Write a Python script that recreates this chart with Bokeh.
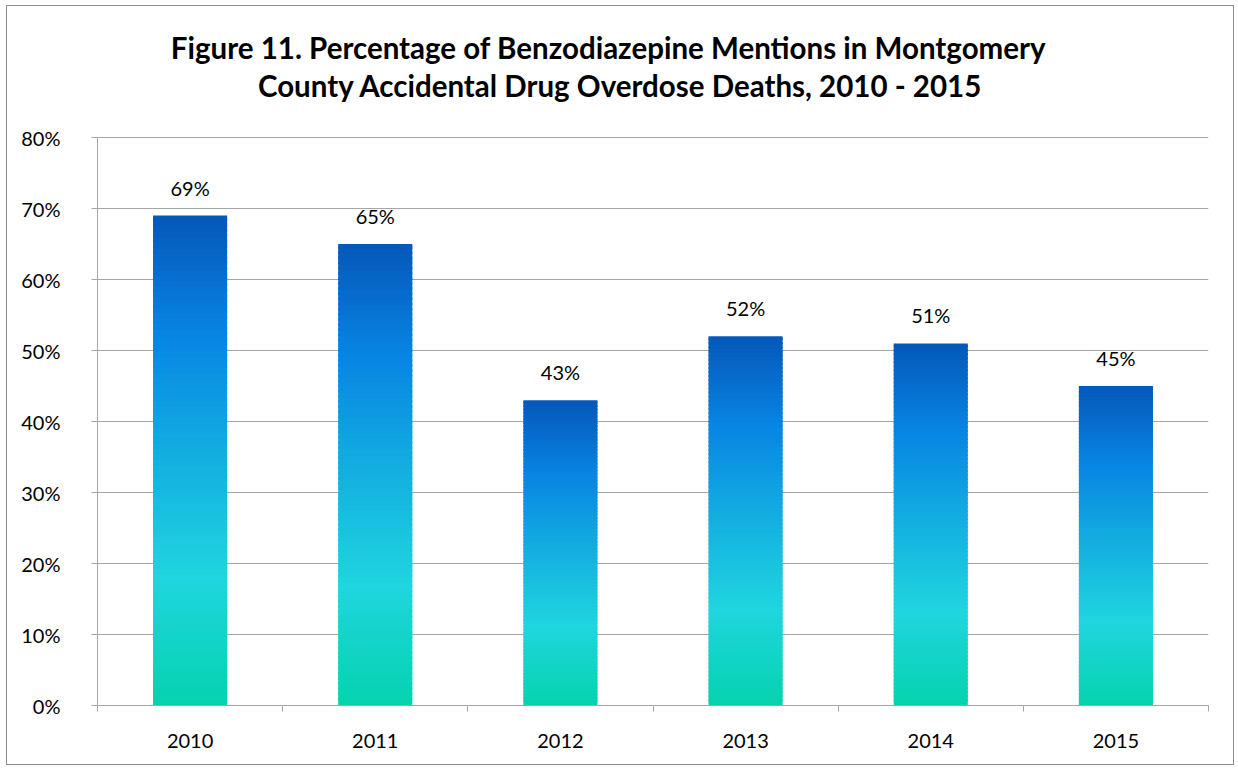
from bokeh.plotting import figure
from bokeh.models import (ColumnDataSource, FixedTicker, PrintfTickFormatter, Range1d, Label)
from bokeh.core.properties import value
from bokeh.embed import file_html
from bokeh.resources import INLINE

# ---- data ----
years = ["2010", "2011", "2012", "2013", "2014", "2015"]
percent = [69, 65, 43, 52, 51, 45]
y_ticks = [0, 10, 20, 30, 40, 50, 60, 70, 80]
title_line1 = "Figure 11. Percentage of Benzodiazepine Mentions in Montgomery"
title_line2 = "County Accidental Drug Overdose Deaths, 2010 - 2015"

# ---- gradient (style) ----
stops = [(0.0, (5, 211, 173)), (0.26, (32, 213, 223)), (0.5, (20, 176, 224)),
         (0.76, (8, 132, 227)), (1.0, (5, 88, 184))]

def grad(f):
    for (f0, c0), (f1, c1) in zip(stops[:-1], stops[1:]):
        if f <= f1:
            t = (f - f0) / (f1 - f0) if f1 > f0 else 0
            return "#%02x%02x%02x" % tuple(int(round(a + (b - a) * t)) for a, b in zip(c0, c1))
    return "#%02x%02x%02x" % stops[-1][1]

FONT = "Lato"
GRAY = "#a6a6a6"

# layout: the frame extends above the 80% line so that the title fits inside it
W, H = 1228, 760
MB_TOP, MB_BOTTOM = 10, 61
AXIS_PX = 568                      # pixel height of the 0..80 % axis
frame_h = H - MB_TOP - MB_BOTTOM
y_top = y_ticks[-1] * frame_h / AXIS_PX

p = figure(width=W, height=H, output_backend="svg", toolbar_location=None,
           x_range=Range1d(0, len(years)), y_range=Range1d(0, y_top),
           min_border_left=90, min_border_right=27, min_border_top=MB_TOP,
           min_border_bottom=MB_BOTTOM)
p.title = None
p.outline_line_color = None
p.background_fill_color = "white"
p.border_fill_color = "white"
p.styles = {"border": "1px solid #8c8c8c", "margin": "5px 0px 0px 6px"}

# title lines (screen units, relative to the frame's bottom-left)
p.add_layout(Label(x=511, y=AXIS_PX + 90, x_units="screen", y_units="screen", text=title_line1,
                   text_align="center", text_baseline="middle", text_font=FONT,
                   text_font_style="bold", text_font_size="29.5px", text_color="#000000"))
p.add_layout(Label(x=523, y=AXIS_PX + 52, x_units="screen", y_units="screen", text=title_line2,
                   text_align="center", text_baseline="middle", text_font=FONT,
                   text_font_style="bold", text_font_size="29.5px", text_color="#000000"))

# gradient bars built from slices
N = 90
half = 0.2
left, right, bottom, top, color = [], [], [], [], []
for i, v in enumerate(percent):
    cx = i + 0.5
    for k in range(N):
        b = v * k / N
        t = v * (k + 1) / N
        if k < N - 1:
            t = min(v, t + v * 0.6 / N)
        left.append(cx - half); right.append(cx + half)
        bottom.append(b); top.append(t)
        color.append(grad((k + 0.5) / N))
p.quad(left=left, right=right, bottom=bottom, top=top, fill_color=color, line_color=None)

# data labels
src = ColumnDataSource(dict(x=[i + 0.5 for i in range(len(years))], y=percent,
                            lab=["%d%%" % v for v in percent]))
p.text(x="x", y="y", text="lab", source=src, text_align="center", text_baseline="bottom",
       y_offset=-16, text_font=value(FONT), text_font_size="20px", text_color="#000000")

# y axis
p.yaxis.ticker = FixedTicker(ticks=y_ticks)
p.yaxis.bounds = (y_ticks[0], y_ticks[-1])
p.yaxis.formatter = PrintfTickFormatter(format="%d%%")
p.yaxis.axis_line_color = GRAY
p.yaxis.major_tick_line_color = GRAY
p.yaxis.major_tick_out = 6
p.yaxis.major_tick_in = 0
p.yaxis.minor_tick_line_color = None
p.yaxis.major_label_standoff = 31
p.yaxis.major_label_text_font = FONT
p.yaxis.major_label_text_font_size = "20px"
p.yaxis.major_label_text_color = "#000000"

# x axis: labels at centers, ticks at boundaries
centers = [i + 0.5 for i in range(len(years))]
p.xaxis.ticker = FixedTicker(ticks=centers, minor_ticks=list(range(len(years) + 1)))
p.xaxis.major_label_overrides = {c: y for c, y in zip(centers, years)}
p.xaxis.axis_line_color = GRAY
p.xaxis.major_tick_line_color = None
p.xaxis.minor_tick_line_color = GRAY
p.xaxis.minor_tick_out = 6
p.xaxis.minor_tick_in = 0
p.xaxis.major_label_standoff = 22
p.xaxis.major_label_text_font = FONT
p.xaxis.major_label_text_font_size = "20px"
p.xaxis.major_label_text_color = "#000000"

p.xgrid.grid_line_color = None
p.ygrid.ticker = FixedTicker(ticks=y_ticks)
p.ygrid.grid_line_color = GRAY
p.ygrid.grid_line_width = 1
p.ygrid.level = "underlay"

open("out.html", "w").write(file_html(p, INLINE))
